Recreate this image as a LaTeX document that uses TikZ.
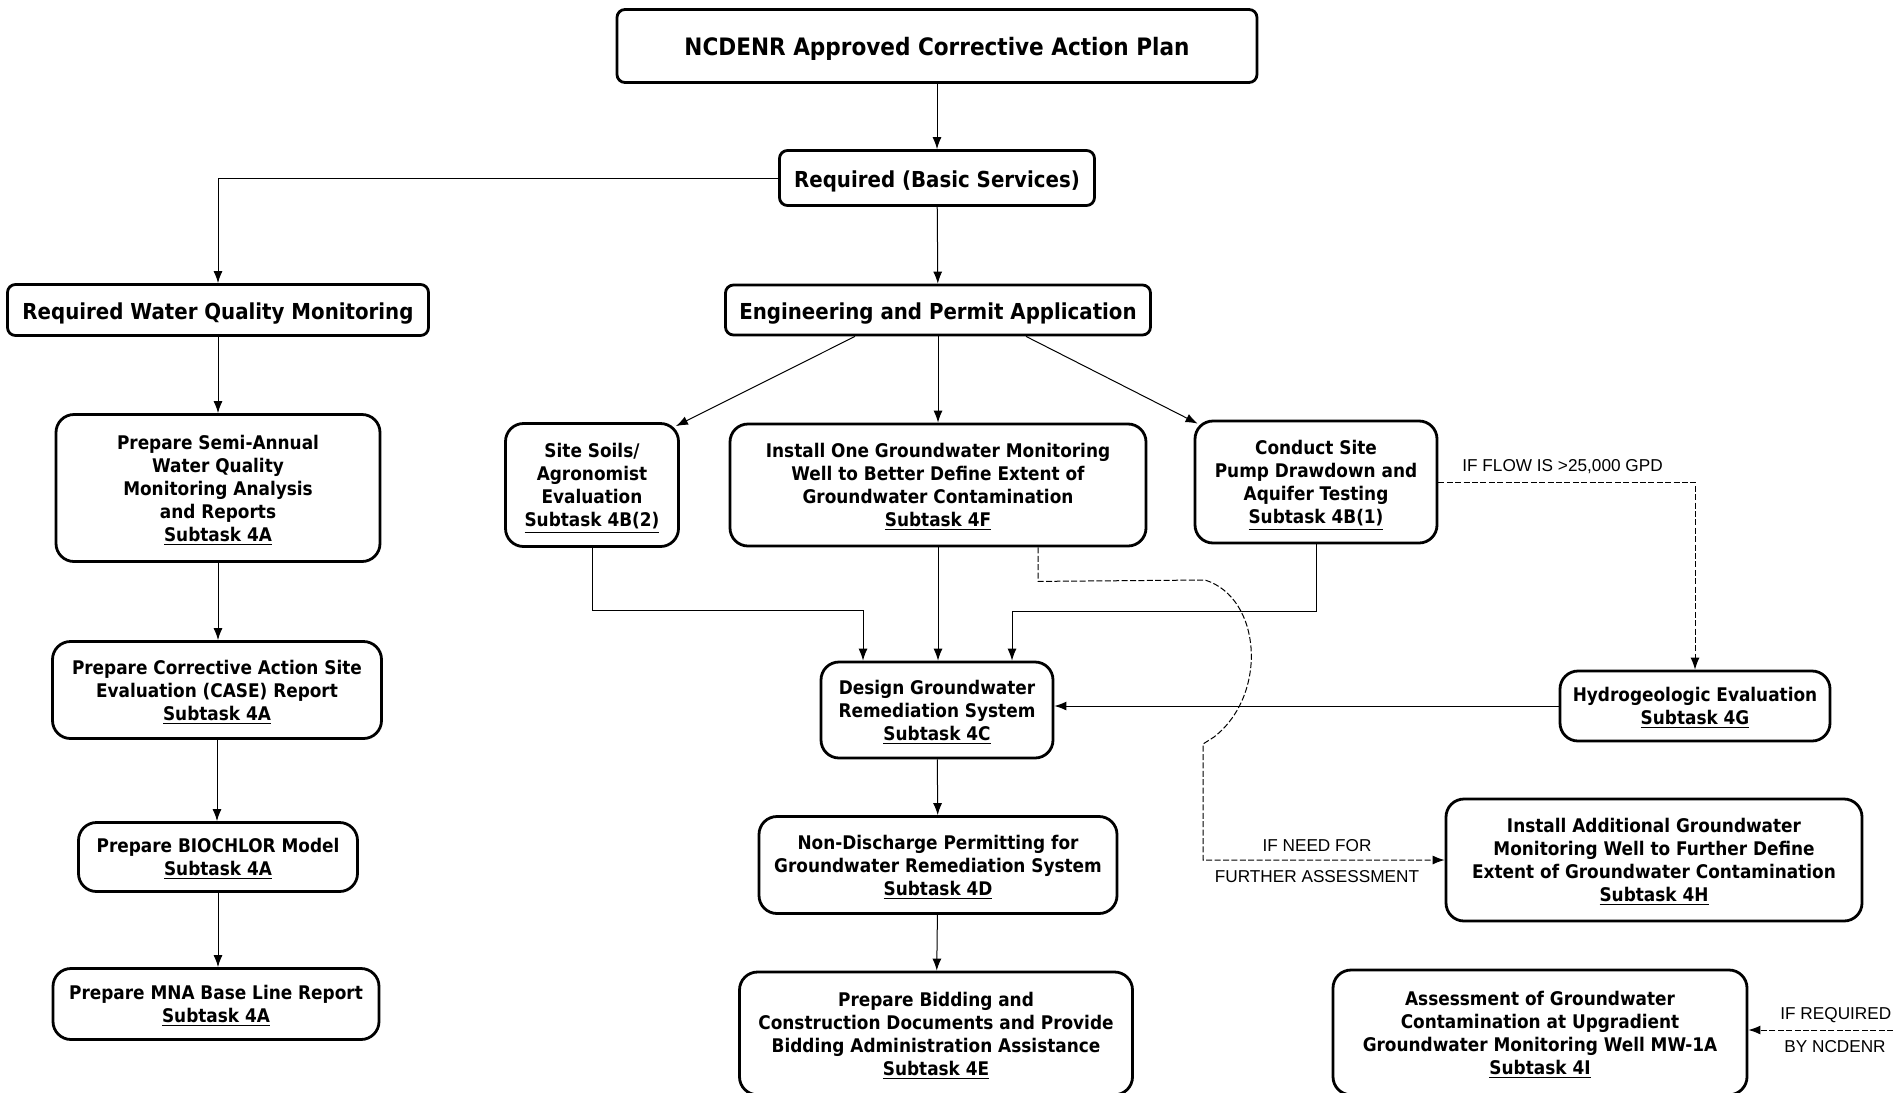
\documentclass[tikz,border=0pt]{standalone}
\usepackage{fontspec}
\setmainfont{DejaVu Sans Condensed}
\newfontfamily\notefont{Liberation Sans}
\usetikzlibrary{arrows.meta}
\newcommand{\toppad}[1]{\rule{0pt}{\dimexpr\fontcharht\font`l+#1\relax}}
\tikzstyle{topbox} = [
    rectangle,
    rounded corners=4pt,
    line width=1.4pt,
    draw=black,
    font=\bfseries\fontsize{12}{14}\selectfont,
    execute at begin node=\toppad{3.6pt}
]
\tikzstyle{headbox} = [
    rectangle,
    rounded corners=4pt,
    line width=1.4pt,
    draw=black,
    font=\bfseries\fontsize{11}{13}\selectfont,
    execute at begin node=\toppad{3.6pt}
]
\tikzstyle{taskbox} = [
    rectangle,
    rounded corners=9pt,
    line width=1.4pt,
    draw=black,
    align=center,
    font=\bfseries\fontsize{9.4}{11.5}\selectfont,
    text depth=-0.3pt
]
\tikzstyle{arrow} = [line width=0.5pt,->,>={Latex[length=6pt,width=4.5pt]}]
\tikzstyle{ifarrow} = [arrow, dash pattern=on 3pt off 1.2pt]
\tikzstyle{note} = [font=\notefont\fontsize{8.6}{10}\selectfont, inner sep=0pt]

\begin{document}
\begin{tikzpicture}[x=0.5pt,y=-0.5pt]
\useasboundingbox (0,0) rectangle (1893,1092);

\node (plan) [topbox, minimum width=320pt, minimum height=36.5pt] at (937,46)
{NCDENR Approved Corrective Action Plan};

\node (basic) [headbox, minimum width=157.5pt, minimum height=27.5pt] at (937,178)
{Required (Basic Services)};

\node (wqm) [headbox, minimum width=210.5pt, minimum height=25.5pt] at (218,310)
{Required Water Quality Monitoring};

\node (eng) [headbox, minimum width=212.5pt, minimum height=25pt] at (938,310)
{Engineering and Permit Application};

% left column
\node (task4a) [taskbox, minimum width=162pt, minimum height=73.5pt] at (218,488)
{Prepare Semi-Annual\\Water Quality\\Monitoring Analysis\\and Reports\\\underline{Subtask 4A}};

\node (case) [taskbox, minimum width=164.5pt, minimum height=48.5pt] at (217,690)
{Prepare Corrective Action Site\\Evaluation (CASE) Report\\\underline{Subtask 4A}};

\node (biochlor) [taskbox, minimum width=139.5pt, minimum height=34.5pt] at (218,857)
{Prepare BIOCHLOR Model\\\underline{Subtask 4A}};

\node (mna) [taskbox, minimum width=163pt, minimum height=35.5pt] at (216,1004)
{Prepare MNA Base Line Report\\\underline{Subtask 4A}};

% engineering row
\node (task4b2) [taskbox, minimum width=86.5pt, minimum height=61.5pt] at (592,485)
{Site Soils/\\Agronomist\\Evaluation\\\underline{Subtask 4B(2)}};

\node (task4f) [taskbox, minimum width=208pt, minimum height=61pt] at (938,485)
{Install One Groundwater Monitoring\\Well to Better Define Extent of\\Groundwater Contamination\\\underline{Subtask 4F}};

\node (task4b1) [taskbox, minimum width=121pt, minimum height=61pt] at (1316,482)
{Conduct Site\\Pump Drawdown and\\Aquifer Testing\\\underline{Subtask 4B(1)}};

% middle column
\node (task4c) [taskbox, minimum width=116pt, minimum height=48pt] at (937,710)
{Design Groundwater\\Remediation System\\\underline{Subtask 4C}};

\node (task4d) [taskbox, minimum width=179pt, minimum height=48.5pt] at (938,865)
{Non-Discharge Permitting for\\Groundwater Remediation System\\\underline{Subtask 4D}};

\node (task4e) [taskbox, minimum width=196.5pt, minimum height=61.4pt] at (936,1033.4)
{Prepare Bidding and\\Construction Documents and Provide\\Bidding Administration Assistance\\\underline{Subtask 4E}};

% right column
\node (task4g) [taskbox, minimum width=135pt, minimum height=35pt] at (1695,706)
{Hydrogeologic Evaluation\\\underline{Subtask 4G}};

\node (task4h) [taskbox, minimum width=208pt, minimum height=61pt] at (1654,860)
{Install Additional Groundwater\\Monitoring Well to Further Define\\Extent of Groundwater Contamination\\\underline{Subtask 4H}};

\node (task4i) [taskbox, minimum width=207pt, minimum height=62.4pt] at (1540,1032.4)
{Assessment of Groundwater\\Contamination at Upgradient\\Groundwater Monitoring Well MW-1A\\\underline{Subtask 4I}};

% condition labels
\node (flowlbl) [note, anchor=west] at (1462,467) {IF FLOW IS >25,000 GPD};
\node (needlbl) [note] at (1317,846) {IF NEED FOR};
\node (furtherlbl) [note] at (1317,877) {FURTHER ASSESSMENT};
\node (reqlbl) [note, anchor=west] at (1780,1015) {IF REQUIRED};
\node (bylbl) [note] at (1835,1047) {BY NCDENR};
\coordinate (edge4i) at (1893,1030);

\draw [arrow] (plan) -- (basic);
\draw [arrow] (basic.west) -| (wqm.north);
\draw [arrow] (basic) -- (eng);
\draw [arrow] (wqm) -- (task4a);
\draw [arrow] (task4a.south) -- (task4a.south |- case.north);
\draw [arrow] (case.south) -- (case.south |- biochlor.north);
\draw [arrow] (biochlor.south) -- (biochlor.south |- mna.north);

\draw [arrow] ([xshift=-41.5pt]eng.south) -- ([shift={(-2pt,-2pt)}]task4b2.north east);
\draw [arrow] (eng) -- (task4f);
\draw [arrow] ([xshift=44pt]eng.south) -- ([shift={(2pt,-2pt)}]task4b1.north west);

\draw [arrow] (task4b2.south) -- ++(0,63) -| ([xshift=-37pt]task4c.north);
\draw [arrow] (task4f.south) -- (task4f.south |- task4c.north);
\draw [arrow] (task4b1.south) -- ++(0,67) -| ([xshift=37.5pt]task4c.north);
\draw [arrow] (task4g.west) -- (task4g.west -| task4c.east);
\draw [arrow] (task4c) -- (task4d);
\draw [arrow] (task4d) -- (task4e);

\draw [ifarrow] (task4b1.east) -| (task4g.north);
\draw [ifarrow] ([xshift=50pt]task4f.south) -- ++(0,34) -- (1205,580)
    .. controls (1262,598) and (1268,695) .. (1214,737) -- (1203,744) |- (task4h.west);
\draw [ifarrow] (edge4i) -- (edge4i -| task4i.east);

\end{tikzpicture}
\end{document}
